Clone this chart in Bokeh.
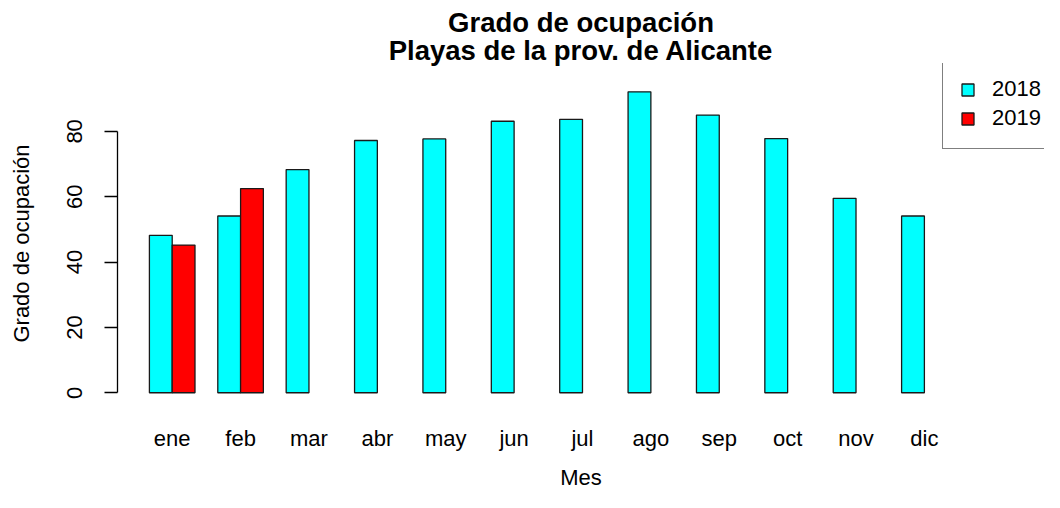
from bokeh.plotting import figure
from bokeh.models import (ColumnDataSource, Range1d, FixedTicker,
                          Legend, LegendItem, Title)
from bokeh.embed import file_html
from bokeh.resources import INLINE

# ---------------- data ----------------
meses = ["ene", "feb", "mar", "abr", "may", "jun", "jul", "ago", "sep", "oct", "nov", "dic"]
ocup_2018 = [48.2, 54.1, 68.3, 77.2, 77.7, 83.1, 83.7, 92.1, 85.0, 77.8, 59.5, 54.1]
ocup_2019 = [45.2, 62.5]
series = ["2018", "2019"]
colores = ["#00FFFF", "#FF0000"]
y_ticks = [0, 20, 40, 60, 80]
titulo = ["Grado de ocupación", "Playas de la prov. de Alicante"]
x_label = "Mes"
y_label = "Grado de ocupación"

FONT = "Liberation Sans"
AX = "22px"

# ---------------- layout (R barplot geometry: bar width 1, space 1 between groups) ----------------
W, H = 1044, 492
FL = 117            # frame left (px)
FT = 63             # frame top
FB = 423            # frame bottom
R_TOP = 79.3        # R plot region top
R_BOT = 404.3       # R plot region bottom
R_W = 861.6         # R plot region width
n = len(meses)
x_lo = -0.4
x_hi_r = 3 * n + 1.4
ppu_x = R_W / (x_hi_r - x_lo)
x_hi = x_lo + (W - FL) / ppu_x
ymax = max(ocup_2018 + ocup_2019)
y_lo_r, y_hi_r = -0.04 * ymax, 1.04 * ymax
ppu_y = (R_BOT - R_TOP) / (y_hi_r - y_lo_r)
y_hi = y_hi_r + (R_TOP - FT) / ppu_y
y_lo = y_lo_r - (FB - R_BOT) / ppu_y

p = figure(width=W, height=H,
           x_range=Range1d(x_lo, x_hi), y_range=Range1d(y_lo, y_hi),
           output_backend="svg", toolbar_location=None,
           min_border_left=FL, min_border_right=0, min_border_top=FT,
           min_border_bottom=H - FB)
p.title = None
p.outline_line_color = None
p.xgrid.grid_line_color = None
p.ygrid.grid_line_color = None
p.background_fill_color = "white"
p.border_fill_color = "white"

x18 = [1.5 + 3 * i for i in range(n)]
x19 = [2.5 + 3 * i for i in range(len(ocup_2019))]
src18 = ColumnDataSource(dict(x=x18, v=ocup_2018))
src19 = ColumnDataSource(dict(x=x19, v=ocup_2019))

r18 = p.vbar(x="x", top="v", bottom=0, width=1, source=src18,
             fill_color=colores[0], line_color="#1a1a1a", line_width=1.3)
r19 = p.vbar(x="x", top="v", bottom=0, width=1, source=src19,
             fill_color=colores[1], line_color="#1a1a1a", line_width=1.3)

# y axis
ya = p.yaxis[0]
ya.ticker = FixedTicker(ticks=y_ticks)
ya.bounds = (y_ticks[0], y_ticks[-1])
ya.major_tick_out = 13
ya.major_tick_in = 0
ya.minor_tick_line_color = None
ya.axis_line_color = "black"
ya.axis_line_width = 1.3
ya.major_tick_line_width = 1.3
ya.major_label_orientation = "vertical"
ya.major_label_standoff = 22
ya.major_label_text_font = FONT
ya.major_label_text_font_size = AX
ya.major_label_text_color = "black"
ya.axis_label = y_label
ya.axis_label_text_font = FONT
ya.axis_label_text_font_size = AX
ya.axis_label_text_font_style = "normal"
ya.axis_label_text_color = "black"
ya.axis_label_standoff = 31

# x axis
xa = p.xaxis[0]
xa.ticker = FixedTicker(ticks=[2 + 3 * i for i in range(n)])
xa.major_label_overrides = {2 + 3 * i: m for i, m in enumerate(meses)}
xa.axis_line_color = None
xa.major_tick_line_color = None
xa.minor_tick_line_color = None
xa.major_tick_out = 0
xa.major_label_standoff = 2
xa.major_label_text_font = FONT
xa.major_label_text_font_size = AX
xa.major_label_text_color = "black"
xa.axis_label = x_label
xa.axis_label_text_font = FONT
xa.axis_label_text_font_size = AX
xa.axis_label_text_font_style = "normal"
xa.axis_label_text_color = "black"
xa.axis_label_standoff = 11

# titles (first added sits nearest the frame)
p.add_layout(Title(text=titulo[1], align="center", text_font=FONT, text_font_size="27.5px",
                   text_font_style="bold", text_color="black", standoff=-5.6), "above")
p.add_layout(Title(text=titulo[0], align="center", text_font=FONT, text_font_size="27.5px",
                   text_font_style="bold", text_color="black", standoff=-2.8), "above")

LEG_LEFT, LEG_BOTTOM = 942, 149
legend = Legend(items=[LegendItem(label=series[0], renderers=[r18]),
                       LegendItem(label=series[1], renderers=[r19])],
                location=(LEG_LEFT - FL, FB - LEG_BOTTOM), orientation="vertical",
                label_text_font=FONT, label_text_font_size=AX, label_text_color="black",
                glyph_width=15, glyph_height=15, label_standoff=17, label_height=22,
                spacing=3, padding=17, margin=0,
                border_line_color="black", border_line_width=1.3,
                background_fill_color="white", background_fill_alpha=1.0)
p.add_layout(legend, "center")

open("out.html", "w").write(file_html(p, INLINE))
